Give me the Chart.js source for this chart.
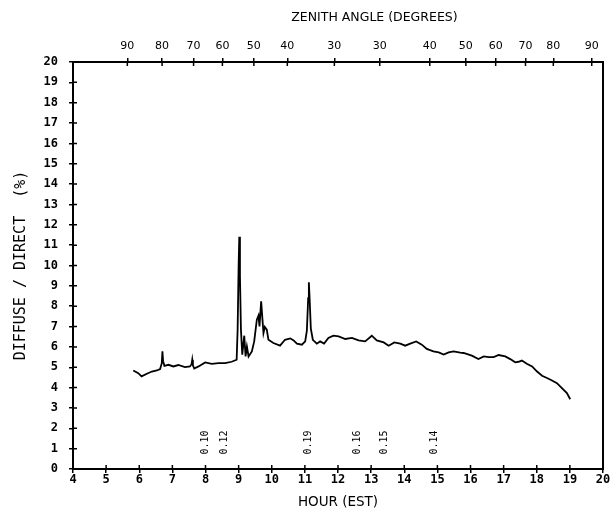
<!DOCTYPE html>
<html>
<head>
<meta charset="utf-8">
<script src="https://cdn.jsdelivr.net/npm/chart.js@4"></script>
<style>
  body { margin: 0; background: #fff; }
  #wrap { width: 613px; height: 515px; }
</style>
</head>
<body>
<div id="wrap"><canvas id="myChart"></canvas></div>
<script>
// Hour of day (EST) and diffuse/direct ratio (%)
const hours = [5.82, 5.97, 6.07, 6.23, 6.38, 6.53, 6.63, 6.68, 6.70, 6.72, 6.76, 6.88, 7.03, 7.18, 7.38, 7.53,
  7.58, 7.60, 7.62, 7.66, 7.79, 7.99, 8.19, 8.39, 8.59, 8.79, 8.94, 8.97, 9.00, 9.02, 9.04, 9.07, 9.11, 9.17,
  9.21, 9.25, 9.30, 9.40, 9.47, 9.55, 9.60, 9.63, 9.68, 9.72, 9.75, 9.79, 9.85, 9.90, 10.05, 10.25, 10.40,
  10.56, 10.66, 10.76, 10.91, 11.01, 11.06, 11.10, 11.12, 11.14, 11.18, 11.24, 11.36, 11.46, 11.58, 11.71,
  11.86, 12.02, 12.22, 12.42, 12.62, 12.82, 13.02, 13.17, 13.38, 13.53, 13.70, 13.88, 14.03, 14.18, 14.36,
  14.53, 14.68, 14.88, 15.04, 15.19, 15.34, 15.49, 15.69, 15.79, 16.04, 16.24, 16.40, 16.55, 16.70, 16.85,
  17.05, 17.20, 17.35, 17.45, 17.55, 17.70, 17.86, 18.01, 18.16, 18.31, 18.46, 18.61, 18.76, 18.91, 19.01];
const ratio = [4.84, 4.71, 4.55, 4.68, 4.79, 4.84, 4.91, 5.20, 5.78, 5.30, 5.07, 5.12, 5.04, 5.11, 5.01, 5.04,
  5.15, 5.37, 5.10, 4.94, 5.04, 5.24, 5.17, 5.20, 5.20, 5.27, 5.37, 6.85, 10.0, 11.41, 9.50, 6.85, 5.62, 6.55,
  5.53, 6.02, 5.53, 5.78, 6.27, 7.34, 7.54, 7.01, 8.24, 7.34, 6.68, 6.98, 6.85, 6.35, 6.19, 6.06, 6.35,
  6.42, 6.32, 6.16, 6.11, 6.27, 6.80, 8.40, 9.18, 8.50, 6.90, 6.35, 6.16, 6.27, 6.16, 6.44,
  6.55, 6.52, 6.39, 6.44, 6.32, 6.27, 6.55, 6.32, 6.22, 6.06, 6.22, 6.16, 6.06, 6.16, 6.27,
  6.11, 5.90, 5.78, 5.73, 5.62, 5.73, 5.78, 5.72, 5.70, 5.57, 5.40, 5.53, 5.50, 5.50, 5.60,
  5.53, 5.40, 5.24, 5.27, 5.33, 5.17, 5.04, 4.79, 4.58, 4.47, 4.35, 4.22, 3.97, 3.73, 3.43];

// Top axis: zenith angle ticks placed at hours
const zenithHours = [5.64, 6.69, 7.64, 8.51, 9.46, 10.47, 11.89, 13.26, 14.77, 15.86, 16.76, 17.66, 18.50, 19.66];
const zenithLabels = ['90', '80', '70', '60', '50', '40', '30', '30', '40', '50', '60', '70', '80', '90'];

// Small rotated values written above the hour axis
const noteHours = [8.0, 8.58, 11.1, 12.6, 13.4, 14.9];
const noteLabels = ['0.10', '0.12', '0.19', '0.16', '0.15', '0.14'];
const noteLevel = 1.3;

const mono = "'DejaVu Sans Mono', monospace";
const sans = "'DejaVu Sans', sans-serif";

const overlay = {
  id: 'overlay',
  afterDraw(chart) {
    const ctx = chart.ctx;
    const x = chart.scales.x, y = chart.scales.y, xt = chart.scales.xTop;
    const a = chart.chartArea;
    ctx.save();
    ctx.strokeStyle = '#000';
    ctx.lineWidth = 1.5;
    ctx.beginPath();
    x.ticks.forEach(t => { const p = x.getPixelForValue(t.value); ctx.moveTo(p, a.bottom); ctx.lineTo(p, a.bottom - 4); });
    y.ticks.forEach(t => { const p = y.getPixelForValue(t.value); ctx.moveTo(a.left, p); ctx.lineTo(a.left + 4, p); });
    zenithHours.forEach(h => { const p = xt.getPixelForValue(h); ctx.moveTo(p, a.top); ctx.lineTo(p, a.top + 4); });
    ctx.stroke();

    ctx.fillStyle = '#000';
    ctx.font = "10px " + mono;
    ctx.textAlign = 'center';
    ctx.textBaseline = 'middle';
    noteHours.forEach((h, i) => {
      ctx.save();
      ctx.translate(x.getPixelForValue(h), y.getPixelForValue(noteLevel));
      ctx.rotate(-Math.PI / 2);
      ctx.fillText(noteLabels[i], 0, 0);
      ctx.restore();
    });

    ctx.font = "12.5px " + sans;
    ctx.fillText('ZENITH ANGLE (DEGREES)', xt.getPixelForValue(13.1), 18);
    ctx.restore();
  }
};

const ctx = document.getElementById('myChart').getContext('2d');
new Chart(ctx, {
  type: 'line',
  data: {
    datasets: [{
      data: hours.map((h, i) => ({ x: h, y: ratio[i] })),
      borderColor: '#000',
      borderWidth: 1.8,
      pointRadius: 0,
      tension: 0,
      fill: false
    }]
  },
  options: {
    responsive: true,
    maintainAspectRatio: false,
    animation: false,
    layout: { padding: 0 },
    plugins: { legend: { display: false }, tooltip: { enabled: false } },
    scales: {
      x: {
        type: 'linear', position: 'bottom', min: 4, max: 20,
        afterFit(s) { s.height = 46; },
        ticks: { stepSize: 1, color: '#000', padding: 0, font: { family: mono, size: 12, weight: 'bold' } },
        grid: { drawOnChartArea: false, tickLength: 4, color: '#000', lineWidth: 1.5 },
        border: { color: '#000', width: 2 },
        title: { display: true, text: 'HOUR (EST)', color: '#000', padding: { top: 6 }, font: { family: sans, size: 13.5 } }
      },
      xTop: {
        type: 'linear', position: 'top', min: 4, max: 20,
        afterFit(s) { s.height = 62; },
        afterBuildTicks(s) { s.ticks = zenithHours.map(v => ({ value: v })); },
        ticks: {
          autoSkip: false, color: '#000', padding: 5,
          callback: (v, i) => zenithLabels[i],
          font: { family: sans, size: 11 }
        },
        grid: { drawOnChartArea: false, tickLength: 4, color: '#000', lineWidth: 1.5 },
        border: { color: '#000', width: 2 }
      },
      y: {
        type: 'linear', position: 'left', min: 0, max: 20,
        afterFit(s) { s.width = 73; },
        ticks: { stepSize: 1, color: '#000', padding: 11, font: { family: mono, size: 12, weight: 'bold' } },
        grid: { drawOnChartArea: false, tickLength: 4, color: '#000', lineWidth: 1.5 },
        border: { color: '#000', width: 2 },
        title: { display: true, text: 'DIFFUSE / DIRECT  (%)', color: '#000', padding: { top: 12, bottom: 0 }, font: { family: mono, size: 15 } }
      },
      yRight: {
        type: 'linear', position: 'right', min: 0, max: 20,
        afterFit(s) { s.width = 10; },
        ticks: { display: false },
        grid: { display: false },
        border: { color: '#000', width: 2 }
      }
    }
  },
  plugins: [overlay]
});
</script>
</body>
</html>
